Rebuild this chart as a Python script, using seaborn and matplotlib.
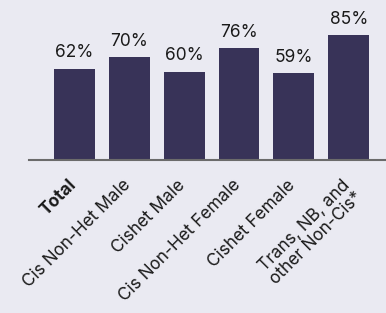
import matplotlib.pyplot as plt
import matplotlib.transforms as mtransforms
import seaborn as sns
import pandas as pd

sns.set_style("dark")
plt.rcParams["font.family"] = ["Inter", "DejaVu Sans"]

groups = ["Total", "Cis Non-Het Male", "Cishet Male", "Cis Non-Het Female",
          "Cishet Female", "Trans, NB, and\nother Non-Cis*"]
values = [62, 70, 60, 76, 59, 85]

bg = "#EAEAF2"
fig = plt.figure(figsize=(3.86, 3.13), dpi=100, facecolor=bg)
ax = fig.add_axes([0.075, 0.489, 0.925, 0.511])
ax.set_facecolor(bg)

df = pd.DataFrame({"group": groups, "value": values})
sns.barplot(data=df, x="group", y="value", color="#383358", saturation=1,
            width=0.745, linewidth=0, ax=ax)

for i, v in enumerate(values):
    ax.text(i, v + 5, f"{v}%", ha="center", va="bottom", fontsize=12.5,
            color="#1a1a1a")

ax.set_ylim(0, 108.8)
ax.set_xlim(-0.83, 5.68)
ax.set_yticks([])
ax.set_xlabel("")
ax.set_ylabel("")
for s in ["top", "right", "left"]:
    ax.spines[s].set_visible(False)
ax.spines["bottom"].set_color("#6b6b6b")
ax.spines["bottom"].set_linewidth(1.5)
ax.tick_params(axis="x", length=0, pad=12)
ax.set_xticks(range(len(groups)))
ax.set_xticklabels(groups, rotation=45, ha="right", va="top",
                   rotation_mode="anchor", fontsize=12.4, color="#1a1a1a",
                   multialignment="center", linespacing=1.0)
ax.get_xticklabels()[0].set_fontweight("bold")

# nudge the rotated labels left so their ends sit under the bars
shift = mtransforms.ScaledTranslation(-7 / 100, 0, fig.dpi_scale_trans)
for lab in ax.get_xticklabels():
    lab.set_transform(lab.get_transform() + shift)

fig.savefig("out.png", dpi=100, facecolor=bg)
